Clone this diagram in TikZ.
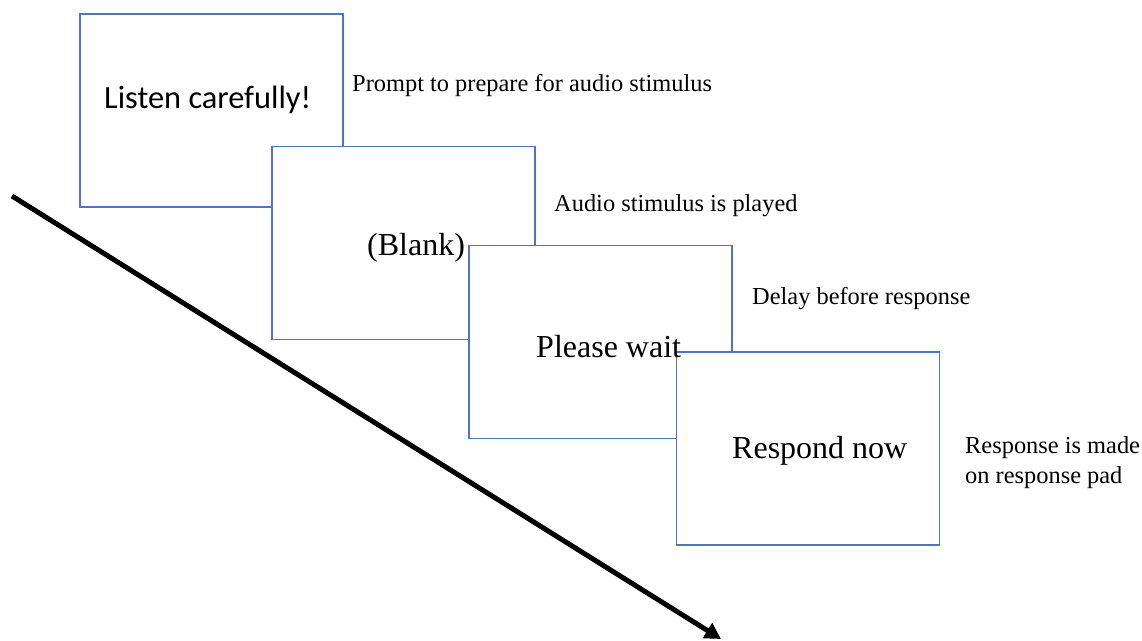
\documentclass[tikz,border=0pt]{standalone}
\usepackage{fontspec}
\setmainfont{Liberation Serif}
\newfontfamily\calib{Carlito}
\usetikzlibrary{arrows.meta}
\definecolor{boxblue}{RGB}{80,116,190}
\tikzset{
  slide/.style={draw=boxblue, line width=1.2pt, fill=white, inner sep=0pt, minimum width=263pt, minimum height=193pt},
  bigtxt/.style={inner sep=0pt, anchor=base west, font=\fontsize{32}{36}\selectfont},
  lbl/.style={inner sep=0pt, anchor=base west, font=\fontsize{24.4}{30}\selectfont, align=left},
  timeline/.style={line width=5pt, -{Triangle[length=16pt,width=17pt]}}
}
\begin{document}
\begin{tikzpicture}[x=1pt,y=-1pt]
\useasboundingbox (0,0) rectangle (1142,640);
\node[slide] (b1) at (211.5,110.5) {};
\node[slide] (b2) at (403.5,243) {};
\node[slide] (b3) at (600.5,342) {};
\node[slide] (b4) at (808,448.5) {};
\node[bigtxt, font=\calib\fontsize{32.4}{36}\selectfont] (t1) at (104,108) {Listen carefully!};
\node[bigtxt] (t2) at (367,255) {(Blank)};
\node[bigtxt] (t3) at (536,357) {Please wait};
\node[bigtxt] (t4) at (732,458) {Respond now};
\node[lbl] (l1) at (352,91) {Prompt to prepare for audio stimulus};
\node[lbl] (l2) at (554,211) {Audio stimulus is played};
\node[lbl] (l3) at (752,304) {Delay before response};
\node[lbl] (l4) at (965,483) {Response is made\\on response pad};
\coordinate (s) at (12,196);
\coordinate (e) at (721,639);
\draw[timeline] (s) -- (e);
\end{tikzpicture}
\end{document}
